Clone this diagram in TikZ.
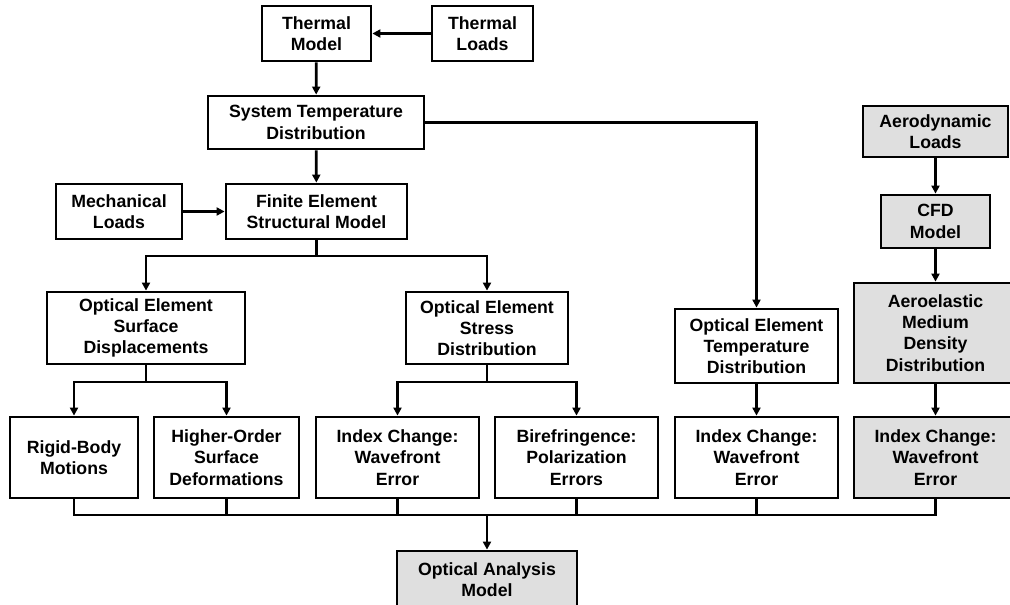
\documentclass[tikz,border=0pt]{standalone}
\usepackage{fontspec}
\setmainfont{Liberation Sans}
\usetikzlibrary{arrows.meta, positioning}

\begin{document}
\begin{tikzpicture}[x = 1pt, y = -1pt, > = {Triangle[length=8pt, width=8pt]}, line width = 2.8pt,
	block/.style = {draw, align=center, inner sep=0pt, font=\fontsize{17.7}{21.2}\selectfont\bfseries},
	shaded/.style = {block, fill=gray!25}]

\useasboundingbox (0,0) rectangle (1010,605);

% top of the chart
\node[block, minimum width=109pt, minimum height=55pt]		(tmodel)	at (316.5,33.5)		{Thermal\\Model};
\node[block, minimum width=101pt, minimum height=55pt]		(tloads)	at (482.5,33.5)		{Thermal\\Loads};
\node[block, minimum width=216pt, minimum height=53pt]		(systemp)	at (316,122.5)		{System Temperature\\Distribution};
\node[block, minimum width=126pt, minimum height=55pt]		(mechload)	at (119,211.5)		{Mechanical\\Loads};
\node[block, minimum width=181pt, minimum height=55pt]		(femodel)	at (316.5,211.5)	{Finite Element\\Structural Model};

% aerodynamic column
\node[shaded, minimum width=145pt, minimum height=51pt]		(aeroload)	at (935.5,131.5)	{Aerodynamic\\Loads};
\node[shaded, minimum width=109pt, minimum height=53pt]		(cfd)		at (935.5,221.5)	{CFD\\Model};
\node[shaded, minimum width=163pt, minimum height=100pt]	(aeroelast)	at (935.5,333)		{Aeroelastic\\Medium\\Density\\Distribution};

% middle row
\node[block, minimum width=198pt, minimum height=72pt]		(surfdisp)	at (146,328)		{Optical Element\\Surface\\Displacements};
\node[block, minimum width=162pt, minimum height=72pt]		(stress)	at (487,328)		{Optical Element\\Stress\\Distribution};
\node[block, minimum width=163pt, minimum height=74pt]		(opttemp)	at (756.5,346)		{Optical Element\\Temperature\\Distribution};

% bottom row
\node[block, minimum width=128pt, minimum height=81pt]		(rigid)		at (74,457.5)		{Rigid-Body\\Motions};
\node[block, minimum width=145pt, minimum height=81pt]		(higher)	at (226.5,457.5)	{Higher-Order\\Surface\\Deformations};
\node[block, minimum width=163pt, minimum height=81pt]		(index1)	at (397.5,457.5)	{Index Change:\\Wavefront\\Error};
\node[block, minimum width=163pt, minimum height=81pt]		(biref)		at (576.5,457.5)	{Birefringence:\\Polarization\\Errors};
\node[block, minimum width=163pt, minimum height=81pt]		(index2)	at (756.5,457.5)	{Index Change:\\Wavefront\\Error};
\node[shaded, minimum width=163pt, minimum height=81pt]		(index3)	at (935.5,457.5)	{Index Change:\\Wavefront\\Error};

\node[shaded, minimum width=180pt, minimum height=58pt]		(analysis)	at (487,580)		{Optical Analysis\\Model};

% branch points
\coordinate (fesplit)	at (316.5,256);
\coordinate (surfsplit)	at (146,382);
\coordinate (strsplit)	at (487,382);
\coordinate (bus)		at (487,515);

\draw[->]	(tloads)		-- (tmodel);
\draw[->]	(tmodel)		-- (systemp);
\draw[->]	(systemp)		-- (femodel);
\draw[->]	(systemp.east)	-| (opttemp.north);
\draw[->]	(mechload)		-- (femodel.west |- mechload);
\draw[->]	(aeroload)		-- (cfd);
\draw[->]	(cfd)			-- (aeroelast);
\draw[->]	(aeroelast)		-- (index3);
\draw[->]	(opttemp)		-- (index2);

\draw		(femodel.south)	-- (fesplit);
\draw[->]	(fesplit)		-| (surfdisp.north);
\draw[->]	(fesplit)		-| (stress.north);

\draw		(surfdisp.south)	-- (surfsplit);
\draw[->]	(surfsplit)		-| (rigid.north);
\draw[->]	(surfsplit)		-| (higher.north);
\draw		(stress.south)	-- (strsplit);
\draw[->]	(strsplit)		-| (index1.north);
\draw[->]	(strsplit)		-| (biref.north);

\draw		(rigid.south) |- (index3.south |- bus) -- (index3.south);
\foreach \n in {higher, index1, biref, index2}
	\draw	(\n.south) -- (\n.south |- bus);
\draw[->]	(bus)			-- (analysis);

\end{tikzpicture}
\end{document}
